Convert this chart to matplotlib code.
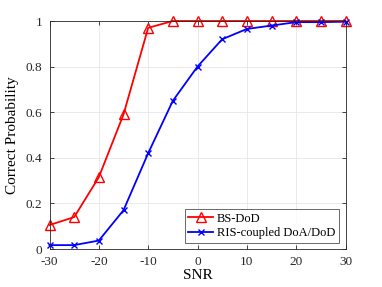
import matplotlib.pyplot as plt
import numpy as np

snr = [-30, -25, -20, -15, -10, -5, 0, 5, 10, 15, 20, 25, 30]
bs_dod = [0.105, 0.14, 0.315, 0.59, 0.97, 1.0, 1.0, 1.0, 1.0, 1.0, 1.0, 1.0, 1.0]
ris_coupled = [0.017, 0.017, 0.037, 0.17, 0.42, 0.65, 0.80, 0.92, 0.965, 0.98, 0.995, 0.995, 0.997]

plt.rcParams['font.family'] = ['Liberation Serif', 'DejaVu Serif']
plt.rcParams['font.size'] = 9.5
plt.rcParams['axes.unicode_minus'] = False

fig = plt.figure(figsize=(3.82, 2.87), dpi=100)
ax = fig.add_axes([49.5/382, 1-249/287, 296/382, 228/287])

ax.plot(snr, bs_dod, color='red', marker='^', markersize=6.5, markerfacecolor='none',
        markeredgewidth=1.0, linewidth=1.3, label='BS-DoD', clip_on=False)
ax.plot(snr, ris_coupled, color='blue', marker='x', markersize=4, markeredgewidth=1.0,
        linewidth=1.3, label='RIS-coupled DoA/DoD', clip_on=False)

ax.set_xlim(-30, 30)
ax.set_ylim(0, 1)
ax.set_xticks(np.arange(-30, 31, 10))
ax.set_yticks([0, 0.2, 0.4, 0.6, 0.8, 1])
ax.set_yticklabels(['0', '0.2', '0.4', '0.6', '0.8', '1'])
ax.grid(True, color='#e6e6e6', linewidth=0.6)
ax.set_axisbelow(True)
ax.tick_params(direction='in', length=3, width=0.6, colors='#262626', labelsize=9.5,
               top=True, right=True, pad=5)
ax.tick_params(labeltop=False, labelright=False)
for s in ax.spines.values():
    s.set_linewidth(0.6)
    s.set_color('#262626')

ax.set_xlabel('SNR', fontsize=11, labelpad=1)
ax.set_ylabel('Correct Probability', fontsize=11, labelpad=5)

leg = ax.legend(loc='lower right', fontsize=9, frameon=True, fancybox=False,
                edgecolor='#262626', borderpad=0.3, handlelength=2.0, handletextpad=0.3,
                labelspacing=0.2, borderaxespad=0.5)
leg.get_frame().set_linewidth(0.6)

fig.savefig('out.png', dpi=100)
